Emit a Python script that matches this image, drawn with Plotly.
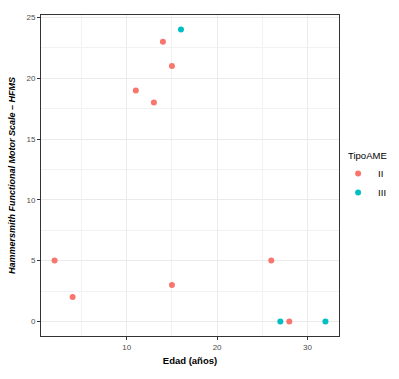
import plotly.graph_objects as go

# Data
edad_II = [2, 4, 11, 13, 14, 15, 15, 26, 28]
hfms_II = [5, 2, 19, 18, 23, 21, 3, 5, 0]
edad_III = [16, 27, 32]
hfms_III = [24, 0, 0]
x_ticks = [10, 20, 30]
y_ticks = [0, 5, 10, 15, 20, 25]

FONT = "Liberation Sans, Arial, Helvetica, sans-serif"

fig = go.Figure()
fig.add_trace(go.Scatter(x=edad_II, y=hfms_II, mode="markers", name="II",
                         marker=dict(color="#F8766D", size=6)))
fig.add_trace(go.Scatter(x=edad_III, y=hfms_III, mode="markers", name="III",
                         marker=dict(color="#00BFC4", size=6)))

axis_common = dict(
    showline=True, mirror=True, linecolor="#333333", linewidth=1,
    ticks="outside", ticklen=3, tickcolor="#333333", tickwidth=1,
    gridcolor="#EBEBEB", gridwidth=1, zeroline=False, automargin=False,
    tickfont=dict(family=FONT, size=8, color="#4D4D4D"),
)

fig.update_xaxes(range=[0.5, 33.5], tickvals=x_ticks,
                 minor=dict(dtick=5, tick0=0, showgrid=True, gridcolor="#F2F2F2", gridwidth=0.6, ticks=""),
                 title=dict(text="<b>Edad (años)</b>", font=dict(family=FONT, size=9.5, color="black"), standoff=6),
                 **axis_common)
fig.update_yaxes(range=[-1.2, 25.2], tickvals=y_ticks,
                 minor=dict(dtick=2.5, tick0=0, showgrid=True, gridcolor="#F2F2F2", gridwidth=0.6, ticks=""),
                 title=dict(text="<b><i>Hammersmith Functional Motor Scale – HFMS</i></b>",
                            font=dict(family=FONT, size=9, color="black"), standoff=9),
                 **axis_common)

fig.update_layout(
    width=399, height=379,
    margin=dict(l=41, r=60, t=15, b=43, autoexpand=False),
    plot_bgcolor="white", paper_bgcolor="white",
    font=dict(family=FONT, size=9, color="black"),
    legend=dict(title=dict(text="&nbsp;&nbsp;&nbsp;TipoAME", side="top", font=dict(family=FONT, size=9.5)),
                font=dict(family=FONT, size=9.5), bgcolor="rgba(0,0,0,0)",
                x=0.997, xanchor="left", y=0.59, yanchor="top",
                itemsizing="trace", itemwidth=30, tracegroupgap=0),
    showlegend=True,
)

fig.write_html("out.html", config={"displayModeBar": False},
               post_script="document.body.style.margin='0';document.body.style.padding='0';")
